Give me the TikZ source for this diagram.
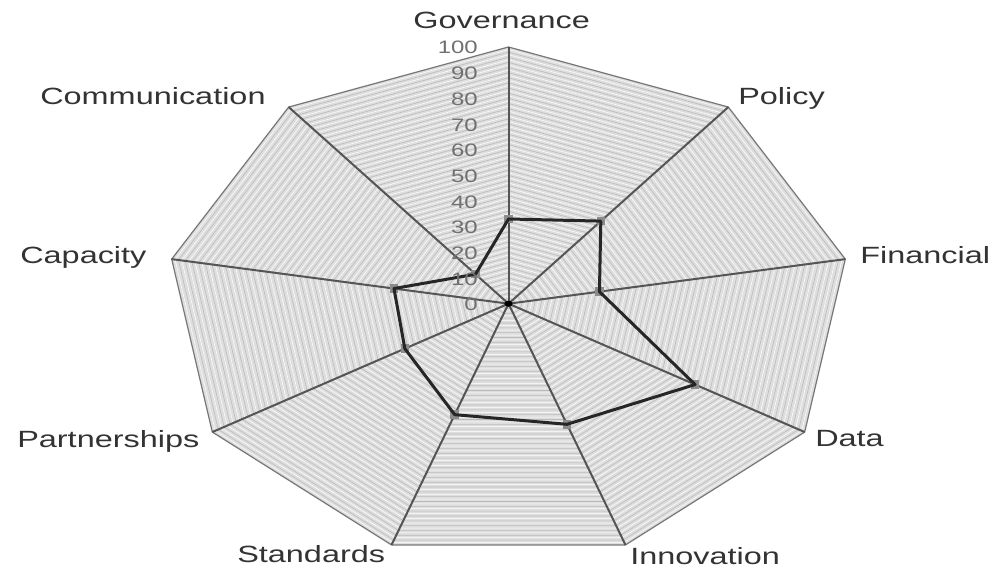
\documentclass[tikz,border=0pt]{standalone}
\usepackage{fontspec}
\setmainfont{Liberation Sans}
\definecolor{labelcol}{HTML}{333333}
\definecolor{tickcol}{HTML}{707070}
\definecolor{gridfill}{HTML}{DEDEDE}
\definecolor{gridline}{HTML}{BBBBBB}
\definecolor{axiscol}{HTML}{555555}
\definecolor{rimcol}{HTML}{777777}
\tikzset{
  catlabel/.style={inner sep=0pt, anchor=base west, text=labelcol, xscale=1.38,
    font=\fontsize{23.5}{28}\selectfont},
  ticklabel/.style={inner sep=0pt, anchor=base east, text=tickcol, xscale=1.33,
    font=\fontsize{18}{22}\selectfont},
  gridring/.style={draw=gridline, line width=0.6pt},
  whitering/.style={draw=white, line width=0.5pt},
  axisline/.style={draw=axiscol, line width=2pt},
  rimline/.style={draw=rimcol, line width=1.2pt, line join=round},
  dataline/.style={draw=black!85, line width=3pt, line join=round},
  datamark/.style={draw=none, fill=black!45, minimum size=8.5pt, inner sep=0pt, rectangle},
}
\begin{document}
\begin{tikzpicture}[x=1pt, y=-1pt]
\useasboundingbox (0,0) rectangle (999,572);
\fill[white] (0,0) rectangle (999,572);
\begin{scope}[shift={(508.5pt,-303.7pt)}, x=3.42pt, y=2.567pt]
  % background fill
  \fill[gridfill] (90:100) \foreach \i in {1,...,8}{ -- (90-40*\i:100)} -- cycle;
  % dense rings
  \foreach \r in {1,3,...,99}
    \draw[whitering] (90:\r) \foreach \i in {1,...,8}{ -- (90-40*\i:\r)} -- cycle;
  \foreach \r in {2,4,...,98}
    \draw[gridring] (90:\r) \foreach \i in {1,...,8}{ -- (90-40*\i:\r)} -- cycle;
  % outer rim
  \draw[rimline] (90:100) \foreach \i in {1,...,8}{ -- (90-40*\i:100)} -- cycle;
  % axes
  \coordinate (ctr) at (0,0);
  \foreach \i in {0,...,8}
    \coordinate (v\i) at (90-40*\i:100);
  \foreach \i in {0,...,8}
    \draw[axisline] (ctr) -- (v\i);
  \fill[black] (ctr) circle[radius=1.2];
  % data points
  \node[datamark] (d0) at (90:33) {};
  \node[datamark] (d1) at (50:42) {};
  \node[datamark] (d2) at (10:27) {};
  \node[datamark] (d3) at (-30:63) {};
  \node[datamark] (d4) at (-70:50) {};
  \node[datamark] (d5) at (-110:46) {};
  \node[datamark] (d6) at (-150:35) {};
  \node[datamark] (d7) at (-190:34) {};
  \node[datamark] (d8) at (-230:15) {};
  \draw[dataline] (d0.center) -- (d1.center) -- (d2.center) -- (d3.center) -- (d4.center)
     -- (d5.center) -- (d6.center) -- (d7.center) -- (d8.center) -- cycle;
\end{scope}
% tick labels
\foreach \v in {0,10,...,100}
  \node[ticklabel] (t\v) at (478, {310.7-\v*2.567}) {\v};
% category labels
\node[catlabel] (lgov) at (413,28.5) {Governance};
\node[catlabel] (lpol) at (738,105) {Policy};
\node[catlabel] (lfin) at (860,264) {Financial};
\node[catlabel] (ldat) at (815,446) {Data};
\node[catlabel] (linn) at (630,564) {Innovation};
\node[catlabel] (lsta) at (237,562) {Standards};
\node[catlabel] (lpar) at (17,447) {Partnerships};
\node[catlabel] (lcap) at (20,264) {Capacity};
\node[catlabel] (lcom) at (40,105) {Communication};
\end{tikzpicture}
\end{document}
